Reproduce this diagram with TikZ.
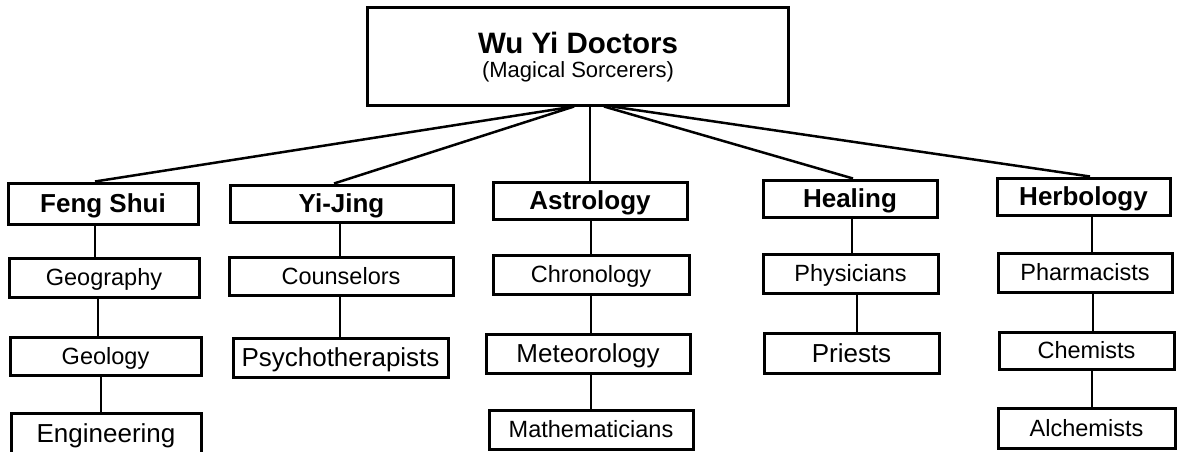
\documentclass[tikz,border=0pt]{standalone}
\usepackage{fontspec}
\setmainfont{Liberation Sans}
\begin{document}
\begin{tikzpicture}[x=1pt,y=-1pt,
  box/.style={draw=black, line width=3pt, rectangle, inner sep=0pt, text depth=0pt, align=center},
  head/.style={box, font=\fontsize{26}{30}\selectfont\bfseries, text height=18.6pt},
  itm/.style={box, font=\fontsize{23.5}{28}\selectfont, text height=16.8pt},
  itmL/.style={box, font=\fontsize{26}{30}\selectfont, text height=18.6pt},
  link/.style={draw=black, line width=2.5pt},
]
\useasboundingbox (0,0) rectangle (1177,451);

% root box and its two lines of text
\node[box, minimum width=421, minimum height=98] (top) at (577.5,56) {};
\node[anchor=base, font=\fontsize{29.5}{34}\selectfont\bfseries] (toptitle) at (578,53) {Wu Yi Doctors};
\node[anchor=base, font=\fontsize{22}{26}\selectfont] (topsub) at (578,77) {(Magical Sorcerers)};

% Feng Shui column
\node[head, minimum width=190, minimum height=41] (fs)   at (103,203.5) {Feng Shui};
\node[itm,  minimum width=190, minimum height=39] (geog) at (104,277.5) {Geography};
\node[itm,  minimum width=191, minimum height=38] (geol) at (105.5,356) {Geology};
\node[itmL, minimum width=190, minimum height=40] (eng)  at (106,433) {Engineering};

% Yi-Jing column
\node[head, minimum width=223, minimum height=37] (yj)    at (341.5,203.5) {Yi-Jing};
\node[itm,  minimum width=224, minimum height=38] (couns) at (341,276) {Counselors};
\node[itmL, minimum width=215, minimum height=39] (psy)   at (340.5,357.5) {Psychotherapists};

% Astrology column
\node[head, minimum width=194, minimum height=37] (ast)   at (590,200.5) {Astrology};
\node[itm,  minimum width=196, minimum height=39] (chron) at (591,274.5) {Chronology};
\node[itmL, minimum width=204, minimum height=39] (meteo) at (588,353.5) {Meteorology};
\node[itm,  minimum width=204, minimum height=39] (math)  at (591,429.5) {Mathematicians};

% Healing column
\node[head, minimum width=174, minimum height=37] (heal)    at (850,198.5) {Healing};
\node[itm,  minimum width=175, minimum height=39] (phys)    at (850.5,273.5) {Physicians};
\node[itmL, minimum width=175, minimum height=40] (priests) at (851.5,353) {Priests};

% Herbology column
\node[head, minimum width=173, minimum height=37] (herb)  at (1083.5,196.5) {Herbology};
\node[itm,  minimum width=174, minimum height=39] (pharm) at (1085,272.5) {Pharmacists};
\node[itm,  minimum width=175, minimum height=37] (chem)  at (1086.5,350.5) {Chemists};
\node[itm,  minimum width=177, minimum height=40] (alch)  at (1086.5,428) {Alchemists};

% fan from the root box to the five branches
\draw[link] (top.south -| 574,0) -- (fs.north -| 95,0);
\draw[link] (top.south -| 574,0) -- (yj.north -| 334,0);
\draw[link] (top.south -| 590,0) -- (ast.north -| 590,0);
\draw[link] (top.south -| 604,0) -- (heal.north -| 853,0);
\draw[link] (top.south -| 612,0) -- (herb.north -| 1090,0);

% vertical links inside each column
\draw[link] (fs.south -| 95,0)    -- (geog.north -| 95,0);
\draw[link] (geog.south -| 98,0)  -- (geol.north -| 98,0);
\draw[link] (geol.south -| 101,0) -- (eng.north -| 101,0);

\draw[link] (yj.south -| 340,0)    -- (couns.north -| 340,0);
\draw[link] (couns.south -| 340,0) -- (psy.north -| 340,0);

\draw[link] (ast.south -| 591,0)   -- (chron.north -| 591,0);
\draw[link] (chron.south -| 591,0) -- (meteo.north -| 591,0);
\draw[link] (meteo.south -| 591,0) -- (math.north -| 591,0);

\draw[link] (heal.south -| 852,0) -- (phys.north -| 852,0);
\draw[link] (phys.south -| 857,0) -- (priests.north -| 857,0);

\draw[link] (herb.south -| 1092,0)  -- (pharm.north -| 1092,0);
\draw[link] (pharm.south -| 1093,0) -- (chem.north -| 1093,0);
\draw[link] (chem.south -| 1092,0)  -- (alch.north -| 1092,0);
\end{tikzpicture}
\end{document}
